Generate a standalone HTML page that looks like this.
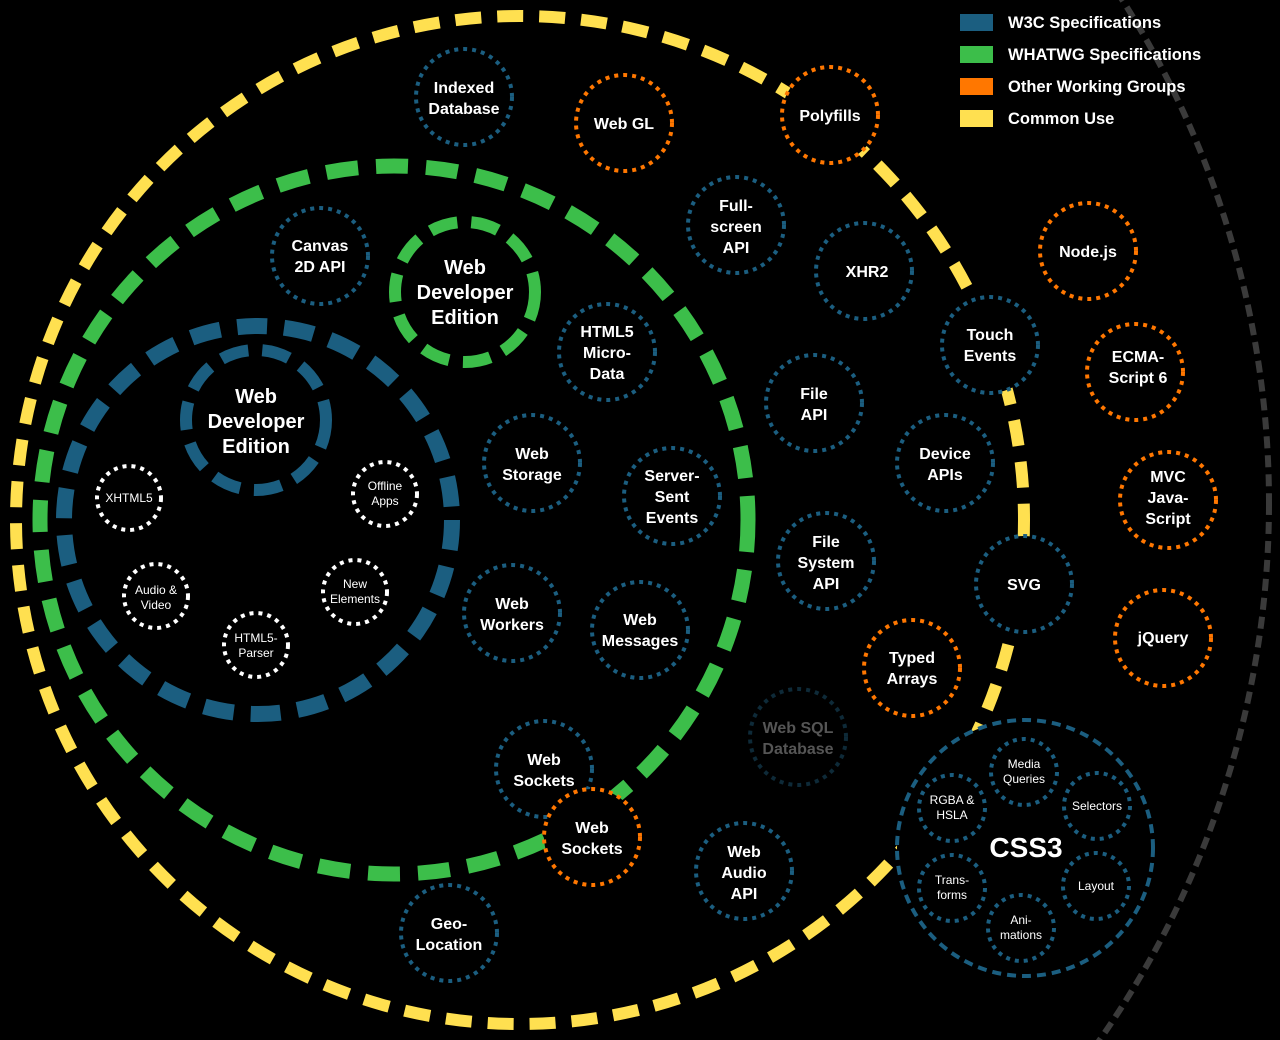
<!DOCTYPE html>
<html><head><meta charset="utf-8"><style>
html,body{margin:0;padding:0;background:#000;overflow:hidden;width:1280px;height:1040px;}
svg{display:block;}
text{font-family:"Liberation Sans",Arial,sans-serif;fill:#fff;text-anchor:middle;}
.b{font-weight:bold;font-size:16px;}
.s{font-size:12px;}
.l{font-weight:bold;font-size:16.5px;text-anchor:start;}
</style></head><body>
<svg width="1280" height="1040" viewBox="0 0 1280 1040" xmlns="http://www.w3.org/2000/svg">
<rect width="1280" height="1040" fill="#000"/>
<!-- grey arc -->
<circle cx="333" cy="503" r="936" fill="none" stroke="#3a3a3a" stroke-width="6" stroke-dasharray="12 7"/>
<!-- yellow -->
<circle cx="520" cy="520" r="504" fill="none" stroke="#ffe050" stroke-width="12" stroke-dasharray="26 16"/>
<!-- green -->
<circle cx="394" cy="520" r="354" fill="none" stroke="#3cbe4a" stroke-width="15" stroke-dasharray="32 18"/>
<!-- blue -->
<circle cx="258" cy="520" r="194" fill="none" stroke="#1b5e80" stroke-width="16" stroke-dasharray="30 17"/>
<circle cx="256" cy="420" r="70" fill="none" stroke="#1b5e80" stroke-width="12" stroke-dasharray="28 14"/>
<text class="b" style="font-size:20px" x="256" y="403">Web</text>
<text class="b" style="font-size:20px" x="256" y="428">Developer</text>
<text class="b" style="font-size:20px" x="256" y="453">Edition</text>
<circle cx="465" cy="292" r="70" fill="none" stroke="#3cbe4a" stroke-width="12" stroke-dasharray="28 14"/>
<text class="b" style="font-size:20px" x="465" y="274">Web</text>
<text class="b" style="font-size:20px" x="465" y="299">Developer</text>
<text class="b" style="font-size:20px" x="465" y="324">Edition</text>

<g fill="#000" stroke-width="4" stroke-dasharray="4 5">
<g stroke="#1b5e80">
<circle cx="464" cy="97" r="48"/>
<circle cx="736" cy="225" r="48"/>
<circle cx="864" cy="271" r="48"/>
<circle cx="320" cy="256" r="48"/>
<circle cx="607" cy="352" r="48"/>
<circle cx="990" cy="345" r="48"/>
<circle cx="814" cy="403" r="48"/>
<circle cx="945" cy="463" r="48"/>
<circle cx="532" cy="463" r="48"/>
<circle cx="672" cy="496" r="48"/>
<circle cx="826" cy="561" r="48"/>
<circle cx="1024" cy="584" r="48"/>
<circle cx="512" cy="613" r="48"/>
<circle cx="640" cy="630" r="48"/>
<circle cx="544" cy="769" r="48"/>
<circle cx="744" cy="871" r="48"/>
<circle cx="449" cy="933" r="48"/>
</g>
<circle cx="798" cy="737" r="48" stroke="#0e2a38"/>
<g stroke="#ff7700">
<circle cx="624" cy="123" r="48"/>
<circle cx="830" cy="115" r="48"/>
<circle cx="912" cy="668" r="48"/>
<circle cx="592" cy="837" r="48"/>
<circle cx="1088" cy="251" r="48"/>
<circle cx="1135" cy="372" r="48"/>
<circle cx="1168" cy="500" r="48"/>
<circle cx="1163" cy="638" r="48"/>
</g>
<g stroke="#fff">
<circle cx="129" cy="498" r="32"/>
<circle cx="385" cy="494" r="32"/>
<circle cx="156" cy="596" r="32"/>
<circle cx="355" cy="592" r="32"/>
<circle cx="256" cy="645" r="32"/>
</g>
<circle cx="1025" cy="848" r="128" stroke="#1b5e80" stroke-dasharray="9 6"/>
<g stroke="#1b5e80">
<circle cx="1024" cy="772" r="33"/>
<circle cx="952" cy="808" r="33"/>
<circle cx="1097" cy="806" r="33"/>
<circle cx="952" cy="888" r="33"/>
<circle cx="1096" cy="886" r="33"/>
<circle cx="1021" cy="928" r="33"/>
</g>
</g>

<text class="b" x="464" y="93">Indexed</text><text class="b" x="464" y="114">Database</text>
<text class="b" x="624" y="129">Web GL</text>
<text class="b" x="830" y="121">Polyfills</text>
<text class="b" x="736" y="211">Full-</text><text class="b" x="736" y="232">screen</text><text class="b" x="736" y="253">API</text>
<text class="b" x="867" y="277">XHR2</text>
<text class="b" x="320" y="251">Canvas</text><text class="b" x="320" y="272">2D API</text>
<text class="b" x="607" y="337">HTML5</text><text class="b" x="607" y="358">Micro-</text><text class="b" x="607" y="379">Data</text>
<text class="b" x="990" y="340">Touch</text><text class="b" x="990" y="361">Events</text>
<text class="b" x="814" y="399">File</text><text class="b" x="814" y="420">API</text>
<text class="b" x="945" y="459">Device</text><text class="b" x="945" y="480">APIs</text>
<text class="b" x="532" y="459">Web</text><text class="b" x="532" y="480">Storage</text>
<text class="b" x="672" y="481">Server-</text><text class="b" x="672" y="502">Sent</text><text class="b" x="672" y="523">Events</text>
<text class="b" x="826" y="547">File</text><text class="b" x="826" y="568">System</text><text class="b" x="826" y="589">API</text>
<text class="b" x="1024" y="590">SVG</text>
<text class="b" x="512" y="609">Web</text><text class="b" x="512" y="630">Workers</text>
<text class="b" x="640" y="625">Web</text><text class="b" x="640" y="646">Messages</text>
<text class="b" x="912" y="663">Typed</text><text class="b" x="912" y="684">Arrays</text>
<text class="b" x="798" y="733" style="fill:#555">Web SQL</text><text class="b" x="798" y="754" style="fill:#555">Database</text>
<text class="b" x="544" y="765">Web</text><text class="b" x="544" y="786">Sockets</text>
<text class="b" x="592" y="833">Web</text><text class="b" x="592" y="854">Sockets</text>
<text class="b" x="744" y="857">Web</text><text class="b" x="744" y="878">Audio</text><text class="b" x="744" y="899">API</text>
<text class="b" x="449" y="929">Geo-</text><text class="b" x="449" y="950">Location</text>
<text class="b" x="1088" y="257">Node.js</text>
<text class="b" x="1138" y="362">ECMA-</text><text class="b" x="1138" y="383">Script 6</text>
<text class="b" x="1168" y="482">MVC</text><text class="b" x="1168" y="503">Java-</text><text class="b" x="1168" y="524">Script</text>
<text class="b" x="1163" y="643">jQuery</text>

<text class="s" x="129" y="502">XHTML5</text>
<text class="s" x="385" y="490">Offline</text><text class="s" x="385" y="505">Apps</text>
<text class="s" x="156" y="594">Audio &amp;</text><text class="s" x="156" y="609">Video</text>
<text class="s" x="355" y="588">New</text><text class="s" x="355" y="603">Elements</text>
<text class="s" x="256" y="642">HTML5-</text><text class="s" x="256" y="657">Parser</text>

<text class="b" style="font-size:28px" x="1026" y="857">CSS3</text>
<text class="s" x="1024" y="768">Media</text><text class="s" x="1024" y="783">Queries</text>
<text class="s" x="952" y="804">RGBA &amp;</text><text class="s" x="952" y="819">HSLA</text>
<text class="s" x="1097" y="810">Selectors</text>
<text class="s" x="952" y="884">Trans-</text><text class="s" x="952" y="899">forms</text>
<text class="s" x="1096" y="890">Layout</text>
<text class="s" x="1021" y="924">Ani-</text><text class="s" x="1021" y="939">mations</text>

<rect x="960" y="14" width="33" height="17" fill="#1b5e80"/>
<rect x="960" y="46" width="33" height="17" fill="#3cbe4a"/>
<rect x="960" y="78" width="33" height="17" fill="#ff7700"/>
<rect x="960" y="110" width="33" height="17" fill="#ffe050"/>
<text class="l" x="1008" y="28">W3C Specifications</text>
<text class="l" x="1008" y="60">WHATWG Specifications</text>
<text class="l" x="1008" y="92">Other Working Groups</text>
<text class="l" x="1008" y="124">Common Use</text>
</svg>
</body></html>
